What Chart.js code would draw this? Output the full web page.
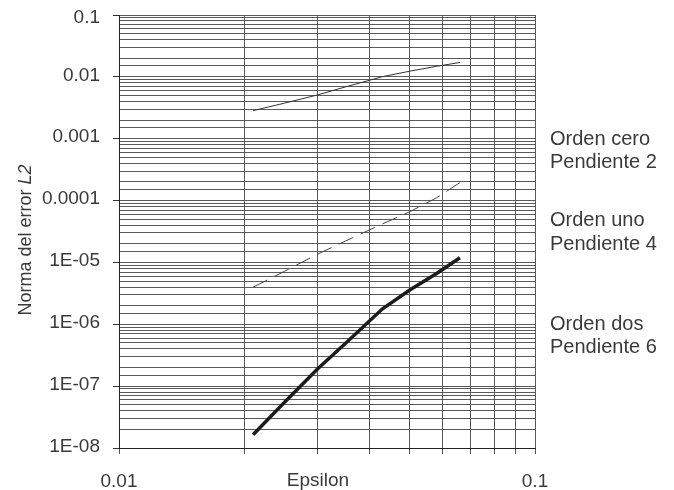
<!DOCTYPE html>
<html>
<head>
<meta charset="utf-8">
<script src="https://cdn.jsdelivr.net/npm/chart.js@4.4.0/dist/chart.umd.min.js"></script>
<style>
  html, body { margin: 0; padding: 0; background: #fff; }
  #wrap { width: 674px; height: 490px; }
</style>
</head>
<body>
<div id="wrap"><canvas id="errorChart" width="674" height="490"></canvas></div>
<script>
// Epsilon values shared by the three runs
const epsilon = [0.021, 0.025, 0.03, 0.035, 0.043, 0.05, 0.058, 0.066];

// L2 error norm for each order
const ordenCero = [2.84e-3, 3.76e-3, 5.10e-3, 6.87e-3, 1.007e-2, 1.236e-2, 1.48e-2, 1.71e-2];
const ordenUno  = [3.97e-6, 7.2e-6, 1.36e-5, 2.21e-5, 4.2e-5, 6.6e-5, 1.11e-4, 1.95e-4];
const ordenDos  = [1.64e-8, 5.5e-8, 1.9e-7, 4.88e-7, 1.78e-6, 3.58e-6, 6.64e-6, 1.19e-5];

// Grid positions on the epsilon axis (one decade)
const xTickValues = [0.01, 0.02, 0.03, 0.04, 0.05, 0.06, 0.07, 0.08, 0.09, 0.1];

// Labels for the decades (keyed by exponent)
const xTickLabels = { '-2': '0.01', '-1': '0.1' };
const yTickLabels = { '-1': '0.1', '-2': '0.01', '-3': '0.001', '-4': '0.0001',
                      '-5': '1E-05', '-6': '1E-06', '-7': '1E-07', '-8': '1E-08' };

// Notes on the right, one pair of lines per curve
const seriesNotes = [
    ['Orden cero', 'Pendiente 2'],
    ['Orden uno', 'Pendiente 4'],
    ['Orden dos', 'Pendiente 6']
];
const noteBaselines = [[145, 168], [226, 250], [330, 353]];

const textColor = '#3a3a3a';
const gridColor = '#5a5a5a';
const fontFamily = '"Liberation Sans", Arial, Helvetica, sans-serif';

function toPoints(values) {
    return epsilon.map((e, i) => ({ x: e, y: values[i] }));
}

function decade(value) {
    const p = Math.log10(value);
    return Math.abs(p - Math.round(p)) < 1e-9 ? Math.round(p) : null;
}

// Texts that are not part of the axes: notes, axis titles,
// and the top y label which sits a bit lower than the others
const extraText = {
    id: 'extraText',
    afterDraw(chart) {
        const ctx = chart.ctx;
        const yScale = chart.scales.y;
        ctx.save();
        ctx.fillStyle = textColor;

        ctx.font = '19px ' + fontFamily;
        ctx.textAlign = 'right';
        ctx.textBaseline = 'middle';
        ctx.fillText(yTickLabels['-1'], yScale.right - 6 - 13, yScale.getPixelForValue(0.1) + 3);

        ctx.textBaseline = 'alphabetic';
        ctx.font = '20px ' + fontFamily;
        ctx.textAlign = 'left';
        seriesNotes.forEach((lines, i) => {
            lines.forEach((line, j) => ctx.fillText(line, 550, noteBaselines[i][j]));
        });

        ctx.font = '19px ' + fontFamily;
        ctx.textAlign = 'center';
        ctx.fillText('Epsilon', 318, 486);

        // y title, with L2 in italics
        const plain = 'Norma del error ';
        const ital = 'L2';
        ctx.font = '18px ' + fontFamily;
        const w1 = ctx.measureText(plain).width;
        ctx.font = 'italic 18px ' + fontFamily;
        const w2 = ctx.measureText(ital).width;
        ctx.translate(31, 240);
        ctx.rotate(-Math.PI / 2);
        ctx.textAlign = 'left';
        ctx.font = '18px ' + fontFamily;
        ctx.fillText(plain, -(w1 + w2) / 2, 0);
        ctx.font = 'italic 18px ' + fontFamily;
        ctx.fillText(ital, -(w1 + w2) / 2 + w1, 0);
        ctx.restore();
    }
};

// keep the plot box fixed: no extra room for half labels
function noScalePadding(scale) {
    scale.paddingTop = 0;
    scale.paddingBottom = 0;
    scale.paddingLeft = 0;
    scale.paddingRight = 0;
}

const ctx = document.getElementById('errorChart').getContext('2d');
new Chart(ctx, {
    type: 'line',
    data: {
        datasets: [
            {
                label: 'Orden cero',
                data: toPoints(ordenCero),
                borderColor: '#333',
                borderWidth: 1,
                pointRadius: 0,
                tension: 0
            },
            {
                label: 'Orden uno',
                data: toPoints(ordenUno),
                borderColor: '#444',
                borderWidth: 1,
                borderDash: [16, 8],
                pointRadius: 0,
                tension: 0
            },
            {
                label: 'Orden dos',
                data: toPoints(ordenDos),
                borderColor: '#1c1c1c',
                borderWidth: 3.5,
                pointRadius: 0,
                tension: 0
            }
        ]
    },
    options: {
        responsive: false,
        animation: false,
        layout: { padding: { left: 0, top: 15, right: 139, bottom: 0 } },
        plugins: {
            legend: { display: false },
            tooltip: { enabled: false }
        },
        scales: {
            x: {
                type: 'logarithmic',
                min: 0.01,
                max: 0.1,
                border: { color: '#222', width: 1 },
                grid: {
                    color: gridColor,
                    tickColor: '#555',
                    tickLength: 6
                },
                afterBuildTicks: (scale) => {
                    scale.ticks = xTickValues.map(v => ({ value: v }));
                },
                ticks: {
                    autoSkip: false,
                    maxRotation: 0,
                    padding: 16,
                    color: textColor,
                    font: { family: fontFamily, size: 19 },
                    callback: (v) => {
                        const d = decade(v);
                        return d !== null && xTickLabels[d] ? xTickLabels[d] : '';
                    }
                },
                afterFit: (scale) => { scale.height = 42; noScalePadding(scale); }
            },
            y: {
                type: 'logarithmic',
                min: 1e-8,
                max: 0.1,
                border: { color: '#222', width: 1 },
                grid: {
                    color: gridColor,
                    tickLength: 6,
                    tickColor: (c) => (c.tick && decade(c.tick.value) !== null ? '#333' : 'rgba(0,0,0,0)')
                },
                ticks: {
                    autoSkip: false,
                    padding: 13,
                    labelOffset: -1.5,
                    color: textColor,
                    font: { family: fontFamily, size: 19 },
                    callback: (v) => {
                        const d = decade(v);
                        // the top label is drawn by extraText
                        if (d === -1) return '';
                        return d !== null && yTickLabels[d] ? yTickLabels[d] : '';
                    }
                },
                afterFit: (scale) => { scale.width = 119; noScalePadding(scale); }
            }
        }
    },
    plugins: [extraText]
});
</script>
</body>
</html>
